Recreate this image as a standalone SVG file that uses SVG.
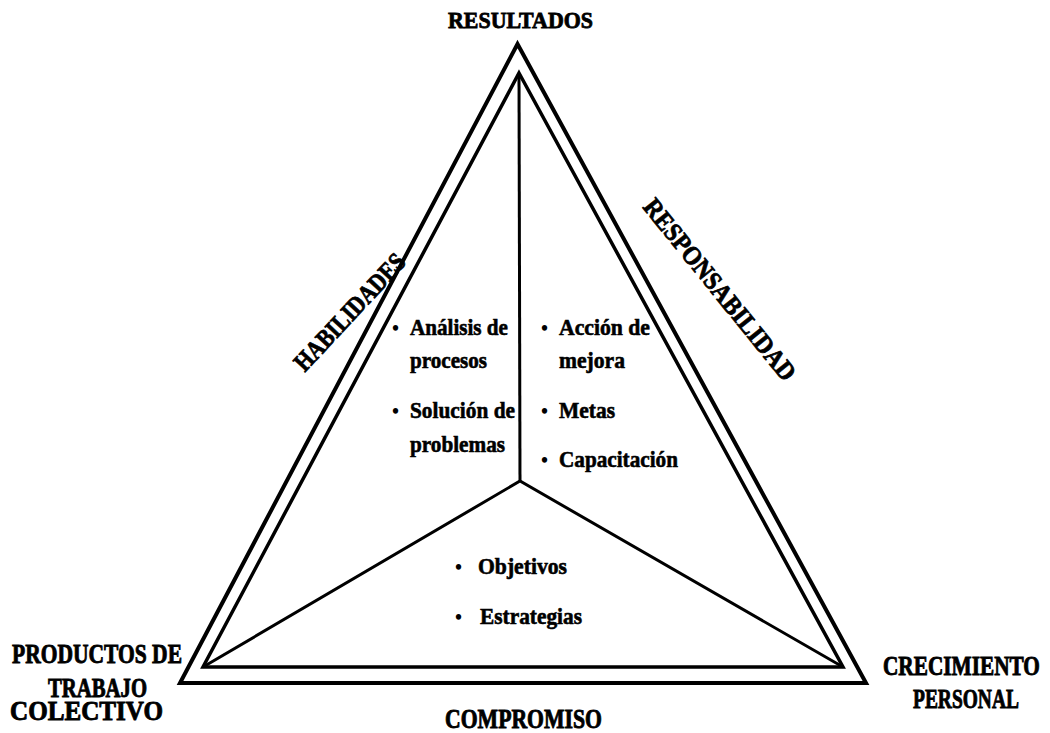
<svg xmlns="http://www.w3.org/2000/svg" width="1050" height="733" viewBox="0 0 1050 733">
<style>
text{font-family:"Liberation Serif","Times New Roman",serif;font-weight:bold;fill:#000;stroke:#000}
.lbl{font-size:27px;stroke-width:0.9px}
.top{font-size:23px;stroke-width:0.8px}
.side{font-size:26px;stroke-width:0.8px}
.item{font-size:23px;stroke-width:0.6px}
.dot{font-size:20px;stroke-width:0}
.ln{fill:none;stroke:#000;stroke-linejoin:miter;stroke-miterlimit:10}
</style>
<rect width="1050" height="733" fill="#fff"/>
<g id="connectors">
<polygon class="ln" stroke-width="4" points="517.5,44 866,683 180,683"/>
<polygon class="ln" stroke-width="3.5" points="519,73 843,667 203,667"/>
<polyline class="ln" stroke-width="3" points="519,73 520,481"/>
<polyline class="ln" stroke-width="3" points="203,667 520,481 843,667"/>
</g>
<g id="resultados">
<text class="top" x="448" y="28" textLength="145" lengthAdjust="spacingAndGlyphs">RESULTADOS</text>
</g>
<g id="productos">
<text class="lbl" x="12" y="663" textLength="170" lengthAdjust="spacingAndGlyphs">PRODUCTOS DE</text>
<text class="lbl" x="48" y="697" textLength="99" lengthAdjust="spacingAndGlyphs">TRABAJO</text>
<text class="lbl" x="10" y="720" textLength="153" lengthAdjust="spacingAndGlyphs">COLECTIVO</text>
</g>
<g id="crecimiento">
<text class="lbl" transform="translate(883,675) scale(0.789,1)" x="0" y="0">CRECIMIENTO</text>
<text class="lbl" transform="translate(913,708) scale(0.721,1)" x="0" y="0">PERSONAL</text>
</g>
<g id="compromiso">
<text class="lbl" x="445" y="728" textLength="157" lengthAdjust="spacingAndGlyphs">COMPROMISO</text>
</g>
<g id="habilidades">
<text class="side" transform="translate(356,318) rotate(-47)" x="0" y="0" text-anchor="middle" textLength="150" lengthAdjust="spacingAndGlyphs">HABILIDADES</text>
</g>
<g id="responsabilidad">
<text class="side" transform="translate(713,295) rotate(51)" x="0" y="0" text-anchor="middle" textLength="226" lengthAdjust="spacingAndGlyphs">RESPONSABILIDAD</text>
</g>
<g id="habilidades-items">
<text class="dot" x="392" y="335">•</text>
<text class="item" x="410" y="335" textLength="98" lengthAdjust="spacingAndGlyphs">Análisis de</text>
<text class="item" x="410" y="368" textLength="77" lengthAdjust="spacingAndGlyphs">procesos</text>
<text class="dot" x="392" y="418">•</text>
<text class="item" x="410" y="418" textLength="105" lengthAdjust="spacingAndGlyphs">Solución de</text>
<text class="item" x="410" y="452" textLength="95" lengthAdjust="spacingAndGlyphs">problemas</text>
</g>
<g id="responsabilidad-items">
<text class="dot" x="541" y="335">•</text>
<text class="item" x="559" y="335" textLength="91" lengthAdjust="spacingAndGlyphs">Acción de</text>
<text class="item" x="559" y="368" textLength="66" lengthAdjust="spacingAndGlyphs">mejora</text>
<text class="dot" x="541" y="418">•</text>
<text class="item" x="559" y="418" textLength="56" lengthAdjust="spacingAndGlyphs">Metas</text>
<text class="dot" x="541" y="467">•</text>
<text class="item" x="559" y="467" textLength="119" lengthAdjust="spacingAndGlyphs">Capacitación</text>
</g>
<g id="compromiso-items">
<text class="dot" x="455" y="574">•</text>
<text class="item" x="478" y="574" textLength="89" lengthAdjust="spacingAndGlyphs">Objetivos</text>
<text class="dot" x="455" y="624">•</text>
<text class="item" x="480" y="624" textLength="102" lengthAdjust="spacingAndGlyphs">Estrategias</text>
</g>
</svg>
